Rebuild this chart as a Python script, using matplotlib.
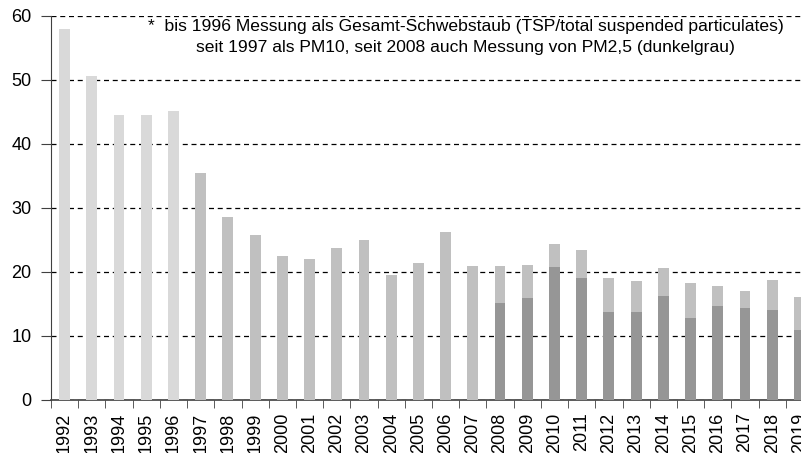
import numpy as np
import matplotlib
matplotlib.use("Agg")
import matplotlib.pyplot as plt

plt.rcParams['font.family'] = ['Liberation Sans', 'DejaVu Sans']

years = [str(y) for y in range(1992, 2020)]
tsp = [58.0, 50.6, 44.5, 44.5, 45.1]
pm10 = [35.4, 28.6, 25.8, 22.5, 22.1, 23.8, 25.0, 19.6, 21.4, 26.3, 21.0,
        20.9, 21.1, 24.3, 23.4, 19.0, 18.6, 20.6, 18.3, 17.8, 17.1, 18.8, 16.1]
pm25 = [15.2, 16.0, 20.8, 19.0, 13.8, 13.8, 16.3, 12.8, 14.7, 14.3, 14.0, 10.9]

note = ("*  bis 1996 Messung als Gesamt-Schwebstaub (TSP/total suspended particulates)\n"
        "seit 1997 als PM10, seit 2008 auch Messung von PM2,5 (dunkelgrau)")

fig = plt.figure(figsize=(8.01, 4.53), dpi=100)
ax = fig.add_axes([51 / 801, 53 / 453, 762 / 801, 384 / 453])

x = np.arange(len(years))
w = 0.4
ax.bar(x[:5], tsp, width=w, color="#d9d9d9", zorder=3)
ax.bar(x[5:], pm10, width=w, color="#c0c0c0", zorder=3)
ax.bar(x[16:], pm25, width=w, color="#969696", zorder=4)

ax.set_xlim(-0.5, len(years) - 0.5)
ax.set_ylim(0, 60)
ax.set_yticks(range(0, 61, 10))
ax.yaxis.grid(True, color="black", linestyle=(0, (4, 3)), linewidth=0.9)
ax.set_axisbelow(True)

ax.set_xticks(x)
ax.set_xticklabels(years, rotation=90, fontsize=13)
ax.set_xticks(np.arange(-0.5, len(years), 1), minor=True)
ax.tick_params(axis="x", which="major", length=0, pad=9)
ax.tick_params(axis="x", which="minor", length=6, direction="out", color="#404040")
ax.tick_params(axis="y", labelsize=13, length=7, direction="out", color="#404040", pad=7)

for s in ["top", "right"]:
    ax.spines[s].set_visible(False)
ax.spines["left"].set_color("#404040")
ax.spines["bottom"].set_color("#404040")
ax.spines["bottom"].set_linewidth(1.2)

fig.text(466 / 801, 1 - 37 / 453, note, ha="center", va="center",
         fontsize=12.6, linespacing=1.5, multialignment="center")

fig.savefig("out.png", dpi=100)
